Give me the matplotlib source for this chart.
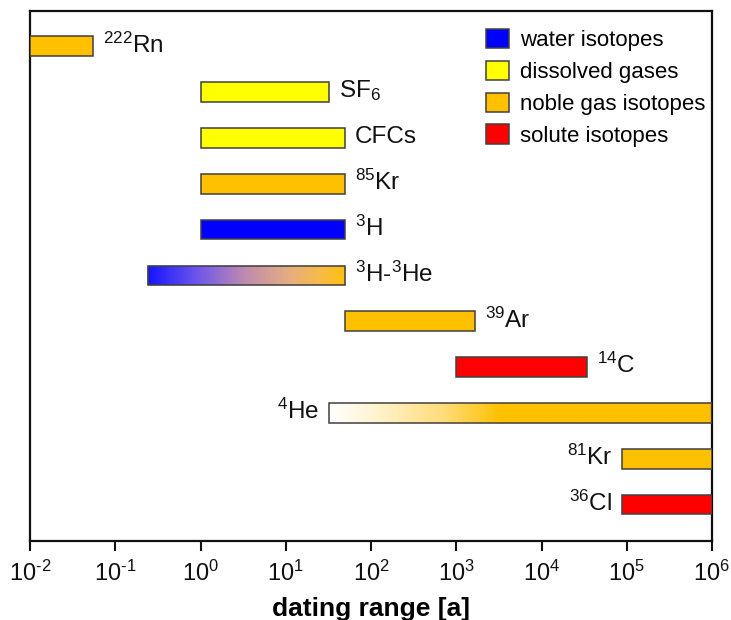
import numpy as np
import matplotlib
matplotlib.use("Agg")
import matplotlib.pyplot as plt
from matplotlib.colors import LinearSegmentedColormap
from matplotlib.patches import Patch

plt.rcParams['font.family'] = ['Liberation Sans', 'DejaVu Sans']
plt.rcParams['mathtext.fontset'] = 'custom'
plt.rcParams['mathtext.rm'] = 'Liberation Sans'
plt.rcParams['mathtext.it'] = 'Liberation Sans:italic'
plt.rcParams['mathtext.bf'] = 'Liberation Sans:bold'

# ---- data ----
tracers = ["$^{222}$Rn", "SF$_6$", "CFCs", "$^{85}$Kr", "$^{3}$H", "$^{3}$H-$^{3}$He",
           "$^{39}$Ar", "$^{14}$C", "$^{4}$He", "$^{81}$Kr", "$^{36}$Cl"]
range_start = [0.01, 1, 1, 1, 1, 0.24, 50, 1000, 32, 88000, 88000]
range_end = [0.055, 32, 50, 50, 50, 50, 1650, 34000, 1e6, 1e6, 1e6]
tracer_group = ["noble", "dissolved", "dissolved", "noble", "water", "water-noble",
                "noble", "solute", "fading-noble", "noble", "solute"]
label_side = ["right"] * 8 + ["left"] * 3

legend_labels = ["water isotopes", "dissolved gases", "noble gas isotopes", "solute isotopes"]
legend_keys = ["water", "dissolved", "noble", "solute"]

xticks = [1e-2, 1e-1, 1e0, 1e1, 1e2, 1e3, 1e4, 1e5, 1e6]
xtick_labels = ["10$^{\\text{-}2}$", "10$^{\\text{-}1}$", "10$^{0}$", "10$^{1}$", "10$^{2}$",
                "10$^{3}$", "10$^{4}$", "10$^{5}$", "10$^{6}$"]

colors = {"water": "#0000ff", "dissolved": "#ffff00", "noble": "#ffc000", "solute": "#ff0000"}
grad_water_noble = LinearSegmentedColormap.from_list(
    "wn", [(0.0, "#1414ff"), (0.25, "#6e55ec"), (0.5, "#c08cae"), (0.72, "#e6ad80"),
           (0.87, "#f6ba4a"), (1.0, "#ffc010")])
grad_fade_noble = LinearSegmentedColormap.from_list(
    "fn", [(0.0, "#ffffff"), (0.12, "#fff3d0"), (0.3, "#ffdc78"), (0.45, "#ffc000"), (1.0, "#ffc000")])

edge = "#404040"
bar_h = 0.43

fig = plt.figure(figsize=(7.31, 6.20), dpi=100)
ax = fig.add_axes([30 / 731, 1 - 540.7 / 620, 682 / 731, 529.7 / 620])
ax.set_xscale("log")

for i, (name, s, e, g, side) in enumerate(zip(tracers, range_start, range_end, tracer_group, label_side)):
    if g in colors:
        ax.barh(i, e - s, left=s, height=bar_h, color=colors[g], edgecolor=edge, linewidth=1.1, zorder=3)
    else:
        cmap = grad_water_noble if g == "water-noble" else grad_fade_noble
        n = 300
        edges = np.logspace(np.log10(s), np.log10(e), n + 1)
        fr = (np.arange(n) + 0.5) / n
        cols = cmap(fr)
        ax.barh([i] * n, edges[1:] - edges[:-1], left=edges[:-1], height=bar_h,
                color=cols, edgecolor=cols, linewidth=0.3, zorder=2)
        ax.barh(i, e - s, left=s, height=bar_h, fill=False, edgecolor=edge, linewidth=1.1, zorder=3)
    if side == "right":
        ax.annotate(name, xy=(e, i), xytext=(7, 1), textcoords="offset points",
                    ha="left", va="center", fontsize=17.5, color="#111111")
    else:
        ax.annotate(name, xy=(s, i), xytext=(-7, 1), textcoords="offset points",
                    ha="right", va="center", fontsize=17.5, color="#111111")

ax.set_xlim(1e-2, 1e6)
ax.set_ylim(10.79, -0.77)
ax.set_yticks([])
ax.set_xticks(xticks)
ax.set_xticklabels(xtick_labels)
ax.xaxis.set_minor_locator(matplotlib.ticker.NullLocator())
ax.tick_params(axis="x", direction="out", length=7.5, width=1.5, labelsize=17, pad=7,
               colors="#111111")
for sp in ax.spines.values():
    sp.set_linewidth(1.6)
    sp.set_color("#111111")

ax.set_xlabel("dating range [a]", fontsize=19, fontweight="bold", labelpad=8)

handles = [Patch(facecolor=colors[k], edgecolor=edge, linewidth=1.1) for k in legend_keys]
leg = ax.legend(handles, legend_labels, loc="upper left", bbox_to_anchor=(0.668, 0.966),
                frameon=False, fontsize=16, handlelength=1.04, handleheight=0.95,
                handletextpad=0.5, labelspacing=0.43, borderpad=0, borderaxespad=0)

fig.savefig("out.png", dpi=100)
